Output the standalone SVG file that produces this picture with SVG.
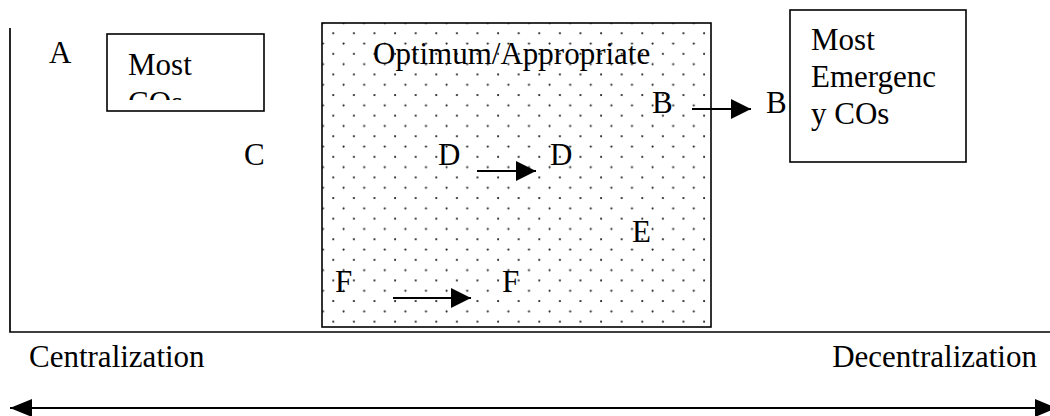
<svg xmlns="http://www.w3.org/2000/svg" width="1050" height="416" viewBox="0 0 1050 416">
<style>
text{font-family:'Liberation Serif',Tinos,'Times New Roman','DejaVu Serif',serif;font-size:31px;fill:#000}
.box{fill:#fff;stroke:#000;stroke-width:1.6}
.ln{stroke:#000;stroke-width:1.8;fill:none}
.ax{stroke:#000;stroke-width:1.7;fill:none}
</style>
<defs>
<pattern id="dots" patternUnits="userSpaceOnUse" x="328.3" y="28.3" width="20.6" height="20.6">
<circle cx="5" cy="5" r="1.1" fill="#222"/>
<circle cx="15.3" cy="15.3" r="1.1" fill="#222"/>
</pattern>
<marker id="ah" markerUnits="userSpaceOnUse" markerWidth="22" markerHeight="22" refX="20" refY="10" orient="auto">
<path d="M0,0 L20,10 L0,20 Z" fill="#000"/>
</marker>
<marker id="ah2" markerUnits="userSpaceOnUse" markerWidth="24" markerHeight="20" refX="22" refY="9" orient="auto-start-reverse">
<path d="M0,0 L22,9 L0,18 Z" fill="#000"/>
</marker>
<clipPath id="clipCOs"><rect x="108" y="35" width="155" height="65"/></clipPath>
</defs>
<g id="axes">
<path class="ax" d="M10,28 V332 H1050"/>
</g>
<g id="node-most-cos">
<rect class="box" x="107" y="34" width="157" height="77"/>
<g clip-path="url(#clipCOs)">
<text x="128" y="75" font-family="Liberation Serif, serif">Most</text>
<text x="128" y="113" font-family="Liberation Serif, serif">COs</text>
</g>
</g>
<g id="node-optimum">
<rect x="322" y="23" width="389" height="304" fill="#fff"/>
<rect x="322" y="23" width="389" height="304" fill="url(#dots)" stroke="#000" stroke-width="1.6"/>
<text x="373" y="64">Optimum/Appropriate</text>
</g>
<g id="node-most-emergency-cos">
<rect class="box" x="790" y="10" width="176" height="152"/>
<text x="811" y="50">Most</text>
<text x="811" y="87">Emergenc</text>
<text x="811" y="124">y COs</text>
</g>
<g id="labels">
<text id="label-A" x="49" y="63">A</text>
<text id="label-C" x="244" y="165">C</text>
<text id="label-D1" x="438" y="165">D</text>
<text id="label-D2" x="550" y="165">D</text>
<text id="label-B1" x="652" y="113">B</text>
<text id="label-B2" x="766" y="113">B</text>
<text id="label-E" x="632" y="242">E</text>
<text id="label-F1" x="335" y="292">F</text>
<text id="label-F2" x="502" y="292">F</text>
<text id="label-centralization" x="29" y="367">Centralization</text>
<text id="label-decentralization" x="1037" y="367" text-anchor="end">Decentralization</text>
</g>
<g id="connectors">
<line class="ln" x1="692" y1="109" x2="751" y2="109" marker-end="url(#ah)"/>
<line class="ln" x1="477" y1="171" x2="536" y2="171" marker-end="url(#ah)"/>
<line class="ln" x1="393" y1="298" x2="471" y2="298" marker-end="url(#ah)"/>
<line class="ln" x1="10" y1="408" x2="1057" y2="408" marker-start="url(#ah2)" marker-end="url(#ah2)"/>
</g>
</svg>
